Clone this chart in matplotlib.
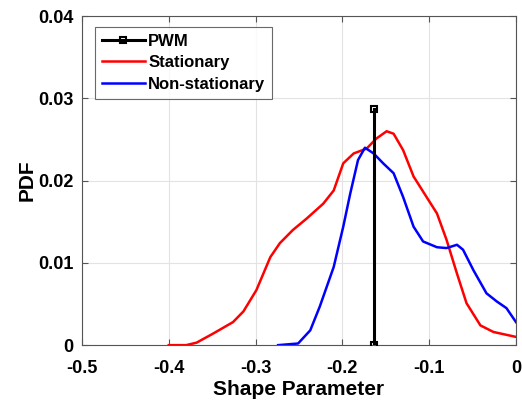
import matplotlib
matplotlib.use("Agg")
import matplotlib.pyplot as plt

plt.rcParams["font.family"] = ["Liberation Sans", "DejaVu Sans"]
plt.rcParams["font.weight"] = "bold"

# Stationary PDF
stat_x = [-0.400, -0.380, -0.368, -0.349, -0.326, -0.314, -0.299, -0.283, -0.272, -0.257,
          -0.241, -0.222, -0.210, -0.199, -0.187, -0.172, -0.161, -0.149, -0.141,
          -0.130, -0.118, -0.103, -0.091, -0.080, -0.068, -0.057, -0.041, -0.026, 0.0]
stat_y = [0.0, 0.0, 0.0003, 0.0014, 0.0028, 0.0041, 0.0067, 0.0107, 0.0124, 0.0140,
          0.0154, 0.0172, 0.0188, 0.0221, 0.0233, 0.0239, 0.0251, 0.0260, 0.0257,
          0.0237, 0.0205, 0.0180, 0.0160, 0.0128, 0.0087, 0.0051, 0.0024, 0.0016, 0.0010]

# Non-stationary PDF
nons_x = [-0.274, -0.251, -0.237, -0.226, -0.210, -0.199, -0.191, -0.182, -0.174,
          -0.164, -0.153, -0.141, -0.130, -0.118, -0.107, -0.091, -0.080, -0.068,
          -0.061, -0.049, -0.034, -0.022, -0.011, 0.0]
nons_y = [0.0, 0.0002, 0.0018, 0.0047, 0.0095, 0.0144, 0.0184, 0.0225, 0.0240,
          0.0233, 0.0221, 0.0209, 0.0180, 0.0144, 0.0126, 0.0119, 0.0118, 0.0122,
          0.0116, 0.0091, 0.0063, 0.0053, 0.0045, 0.0028]

# PWM estimate
pwm_x = [-0.163, -0.163]
pwm_y = [0.0, 0.0287]

fig = plt.figure(figsize=(5.22, 4.07), dpi=100)
ax = fig.add_axes([0.157, 0.152, 0.8315, 0.8085])

ax.plot(pwm_x, pwm_y, color="black", linewidth=2.2, marker="s", markersize=5,
        markerfacecolor="none", markeredgewidth=1.5, label="PWM", zorder=3)
ax.plot(stat_x, stat_y, color="#ff0000", linewidth=1.8, label="Stationary")
ax.plot(nons_x, nons_y, color="#0000ff", linewidth=1.8, label="Non-stationary")

ax.set_xlim(-0.5, 0)
ax.set_ylim(0, 0.04)
ax.set_xticks([-0.5, -0.4, -0.3, -0.2, -0.1, 0])
ax.set_xticklabels(["-0.5", "-0.4", "-0.3", "-0.2", "-0.1", "0"])
ax.set_yticks([0, 0.01, 0.02, 0.03, 0.04])
ax.set_yticklabels(["0", "0.01", "0.02", "0.03", "0.04"])
ax.tick_params(direction="in", top=True, right=True, labelsize=13, length=4,
               color="#555555")
ax.tick_params(axis="y", pad=6)
ax.tick_params(axis="x", pad=11)
ax.grid(True, color="#e3e3e3", linewidth=0.8)
ax.set_axisbelow(True)
for s in ax.spines.values():
    s.set_color("#555555")
    s.set_linewidth(0.8)

ax.set_xlabel("Shape Parameter", fontsize=15, fontweight="bold", labelpad=2)
ax.set_ylabel("PDF", fontsize=15, fontweight="bold", labelpad=1)

leg = ax.legend(loc="upper left", fontsize=12, frameon=True, fancybox=False,
                edgecolor="#444444", bbox_to_anchor=(0.03, 0.967), borderaxespad=0,
                handlelength=2.6, borderpad=0.4, labelspacing=0.4, handletextpad=0.2)
leg.get_frame().set_linewidth(0.8)

plt.savefig("out.png", dpi=100)
